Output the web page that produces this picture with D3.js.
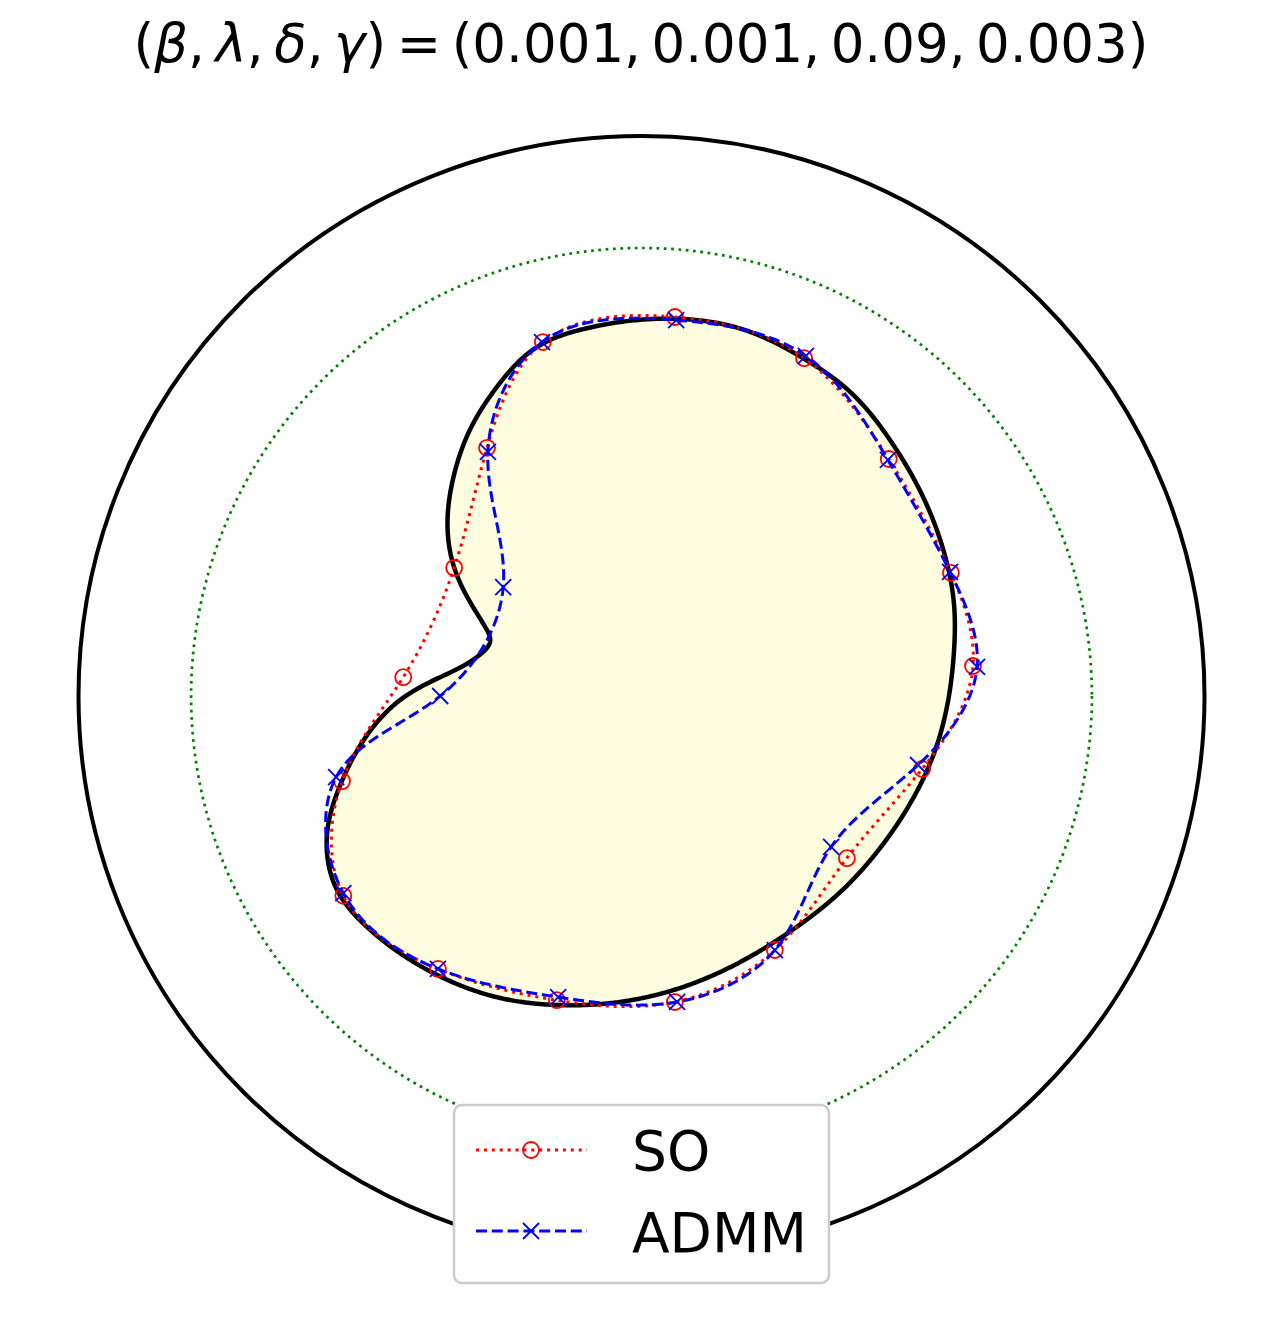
<!DOCTYPE html>
<html>
<head>
<meta charset="utf-8">
<script src="https://cdn.jsdelivr.net/npm/d3@7"></script>
<style>
  html, body { margin: 0; padding: 0; background: #ffffff; }
  svg { display: block; }
</style>
</head>
<body>
<svg id="chart" width="1284" height="1334"></svg>
<script>
// ---------------- data (units: green reference circle radius = 1) ----------------
const outerRadius = 1.25;
const innerRadius = 1.0;

// target shape outline (black, filled)
const shapeX = [0.077, 0.223, 0.359, 0.463, 0.552, 0.623, 0.669, 0.694, 0.694, 0.681, 0.652, 0.601, 0.530,
                0.441, 0.341, 0.219, 0.085, -0.048, -0.181, -0.314, -0.463, -0.609, -0.676, -0.698, -0.669,
                -0.609, -0.536, -0.447, -0.359, -0.336, -0.347, -0.387, -0.419, -0.430, -0.419, -0.381,
                -0.321, -0.232, -0.121];
const shapeY = [0.842, 0.819, 0.754, 0.679, 0.571, 0.449, 0.330, 0.203, 0.103, -0.009, -0.121, -0.232, -0.339,
                -0.438, -0.518, -0.594, -0.652, -0.683, -0.690, -0.674, -0.618, -0.516, -0.433, -0.306, -0.199,
                -0.087, -0.009, 0.042, 0.092, 0.123, 0.154, 0.221, 0.297, 0.408, 0.482, 0.594,
                0.690, 0.779, 0.821];

// SO reconstruction
const soX = [0.074, 0.361, 0.549, 0.687, 0.736, 0.623, 0.456, 0.296, 0.074, -0.188, -0.452, -0.662, -0.665, -0.529, -0.416, -0.343, -0.219];
const soY = [0.846, 0.754, 0.529, 0.275, 0.067, -0.163, -0.362, -0.567, -0.683, -0.679, -0.609, -0.446, -0.190, 0.042, 0.286, 0.554, 0.790];

// ADMM reconstruction
const admmX = [0.077, 0.365, 0.547, 0.685, 0.745, 0.614, 0.421, 0.296, 0.079, -0.185, -0.452, -0.662, -0.678, -0.447, -0.307, -0.341, -0.221];
const admmY = [0.839, 0.759, 0.527, 0.277, 0.065, -0.154, -0.337, -0.567, -0.683, -0.672, -0.609, -0.440, -0.181, 0.000, 0.243, 0.545, 0.790];

const seriesNames = ["SO", "ADMM"];
const titleParts = [
  {t: "(", i: false}, {t: "β", i: true}, {t: ", ", i: false}, {t: "λ", i: true}, {t: ", ", i: false},
  {t: "δ", i: true}, {t: ", ", i: false}, {t: "γ", i: true}, {t: ") = (0.001, 0.001, 0.09, 0.003)", i: false}
];

// ---------------- periodic cubic spline curve (chord-length parameter) ----------------
function PeriodicSpline(context) { this._context = context; }
PeriodicSpline.prototype = {
  areaStart() {}, areaEnd() {},
  lineStart() { this._x = []; this._y = []; },
  point(px, py) { this._x.push(+px); this._y.push(+py); },
  lineEnd() {
    const X = this._x, Y = this._y, n = X.length, ctx = this._context;
    const h = [];
    for (let i = 0; i < n; i++) {
      const j = (i + 1) % n;
      h.push(Math.max(1e-6, Math.hypot(X[j] - X[i], Y[j] - Y[i])));
    }
    const solve = (P) => {
      const A = Array.from({length: n}, () => new Array(n).fill(0));
      const b = new Array(n).fill(0);
      for (let i = 0; i < n; i++) {
        const ip = (i - 1 + n) % n, in_ = (i + 1) % n;
        A[i][ip] += h[ip];
        A[i][i] += 2 * (h[ip] + h[i]);
        A[i][in_] += h[i];
        b[i] = 6 * ((P[in_] - P[i]) / h[i] - (P[i] - P[ip]) / h[ip]);
      }
      for (let c = 0; c < n; c++) {
        let piv = c;
        for (let r = c + 1; r < n; r++) if (Math.abs(A[r][c]) > Math.abs(A[piv][c])) piv = r;
        [A[c], A[piv]] = [A[piv], A[c]]; [b[c], b[piv]] = [b[piv], b[c]];
        for (let r = c + 1; r < n; r++) {
          const f = A[r][c] / A[c][c];
          if (f === 0) continue;
          for (let k = c; k < n; k++) A[r][k] -= f * A[c][k];
          b[r] -= f * b[c];
        }
      }
      const m = new Array(n).fill(0);
      for (let r = n - 1; r >= 0; r--) {
        let s = b[r];
        for (let k = r + 1; k < n; k++) s -= A[r][k] * m[k];
        m[r] = s / A[r][r];
      }
      return m;
    };
    const MX = solve(X), MY = solve(Y);
    const seg = 40;
    ctx.moveTo(X[0], Y[0]);
    for (let i = 0; i < n; i++) {
      const j = (i + 1) % n, hi = h[i];
      for (let s = 1; s <= seg; s++) {
        const t = hi * s / seg, a = hi - t;
        const f = (P, M) => M[i] * a * a * a / (6 * hi) + M[j] * t * t * t / (6 * hi)
          + (P[i] / hi - M[i] * hi / 6) * a + (P[j] / hi - M[j] * hi / 6) * t;
        ctx.lineTo(f(X, MX), f(Y, MY));
      }
    }
    ctx.closePath();
  }
};
const curvePeriodicSpline = (context) => new PeriodicSpline(context);

// ---------------- drawing ----------------
const svg = d3.select("#chart");
const x = d3.scaleLinear().domain([-1.25, 1.25]).range([78.5, 1204.5]);
const y = d3.scaleLinear().domain([-1.25, 1.25]).range([1256, 136]);

const toPts = (xs, ys) => xs.map((v, k) => [v, ys[k]]);
const shapePts = toPts(shapeX, shapeY);
const soPts = toPts(soX, soY);
const admmPts = toPts(admmX, admmY);

// outer circle
svg.append("ellipse")
  .attr("cx", x(0)).attr("cy", y(0))
  .attr("rx", x(outerRadius) - x(0)).attr("ry", y(0) - y(outerRadius))
  .attr("fill", "none").attr("stroke", "#000").attr("stroke-width", 4);

// green dotted circle
svg.append("ellipse")
  .attr("cx", x(0)).attr("cy", y(0))
  .attr("rx", x(innerRadius) - x(0)).attr("ry", y(0) - y(innerRadius))
  .attr("fill", "none").attr("stroke", "green").attr("stroke-width", 2.7)
  .attr("stroke-dasharray", "2.7,4.6");

const closedLine = d3.line().x(d => x(d[0])).y(d => y(d[1])).curve(curvePeriodicSpline);

// shape
svg.append("path").attr("d", closedLine(shapePts))
  .attr("fill", "#fffde0").attr("stroke", "#000").attr("stroke-width", 4.5)
  .attr("stroke-linejoin", "round");

// SO
svg.append("path").attr("d", closedLine(soPts))
  .attr("fill", "none").attr("stroke", "red").attr("stroke-width", 3)
  .attr("stroke-dasharray", "3,4.9");
svg.selectAll("circle.so").data(soPts).join("circle").attr("class", "so")
  .attr("cx", d => x(d[0])).attr("cy", d => y(d[1])).attr("r", 8)
  .attr("fill", "none").attr("stroke", "red").attr("stroke-width", 1.8);

// ADMM
svg.append("path").attr("d", closedLine(admmPts))
  .attr("fill", "none").attr("stroke", "blue").attr("stroke-width", 3)
  .attr("stroke-dasharray", "11,4.8");
const xMark = (cx, cy, s) => `M${cx - s},${cy - s}L${cx + s},${cy + s}M${cx - s},${cy + s}L${cx + s},${cy - s}`;
svg.selectAll("path.admm").data(admmPts).join("path").attr("class", "admm")
  .attr("d", d => xMark(x(d[0]), y(d[1]), 8))
  .attr("fill", "none").attr("stroke", "blue").attr("stroke-width", 1.8);

// title
const title = svg.append("text").attr("x", 641).attr("y", 62).attr("text-anchor", "middle")
  .attr("font-family", "DejaVu Sans").attr("font-size", 53).attr("fill", "#000");
title.selectAll("tspan").data(titleParts).join("tspan")
  .attr("font-style", d => d.i ? "italic" : "normal").text(d => d.t);
{
  const L = title.node().getComputedTextLength();
  const target = 1015, nSpaces = 8;
  title.attr("word-spacing", (target - L) / nSpaces);
}

// legend
const lg = svg.append("g");
lg.append("rect").attr("x", 454).attr("y", 1105).attr("width", 375).attr("height", 178)
  .attr("rx", 8).attr("fill", "#fff").attr("stroke", "#cccccc").attr("stroke-width", 2.5);
const legendItems = [
  {name: seriesNames[0], ly: 1150, color: "red", dash: "3,4.9", ty: 1170},
  {name: seriesNames[1], ly: 1231, color: "blue", dash: "11,4.8", ty: 1252}
];
legendItems.forEach((it, k) => {
  lg.append("line").attr("x1", 476).attr("x2", 587).attr("y1", it.ly).attr("y2", it.ly)
    .attr("stroke", it.color).attr("stroke-width", 3).attr("stroke-dasharray", it.dash);
  if (k === 0) {
    lg.append("circle").attr("cx", 531).attr("cy", it.ly).attr("r", 8)
      .attr("fill", "none").attr("stroke", it.color).attr("stroke-width", 1.8);
  } else {
    lg.append("path").attr("d", xMark(531, it.ly, 8))
      .attr("fill", "none").attr("stroke", it.color).attr("stroke-width", 1.8);
  }
  lg.append("text").attr("x", 632).attr("y", it.ty)
    .attr("font-family", "DejaVu Sans").attr("font-size", 55).attr("fill", "#000").text(it.name);
});
</script>
</body>
</html>
